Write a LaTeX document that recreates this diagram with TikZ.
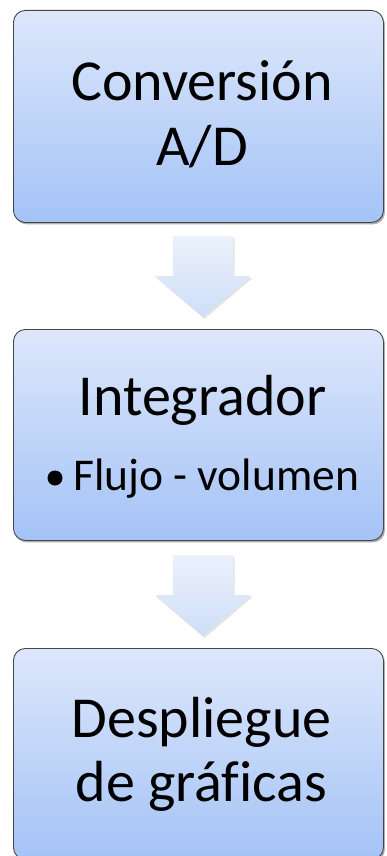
\documentclass[tikz,border=0pt]{standalone}
\usepackage{fontspec}
\setmainfont[Ligatures={TeX,NoCommon}]{Carlito}
\usetikzlibrary{shadows}
\definecolor{boxtop}{RGB}{221,231,251}
\definecolor{boxbot}{RGB}{164,195,246}
\definecolor{boxline}{RGB}{70,70,70}
\definecolor{arrtop}{RGB}{236,241,251}
\definecolor{arrbot}{RGB}{206,222,248}
\tikzset{
  stagebox/.style={draw=boxline, line width=0.9pt, rounded corners=12pt,
    top color=boxtop, bottom color=boxbot,
    drop shadow={shadow xshift=1.5pt, shadow yshift=-2pt, opacity=0.45, fill=black!70}},
  blockarrow/.style={top color=arrtop, bottom color=arrbot, draw=none,
    drop shadow={shadow xshift=1.5pt, shadow yshift=-2pt, opacity=0.18, fill=black!60}},
  bigtxt/.style={font=\fontsize{58}{70}\selectfont, align=center, inner sep=0pt},
  subtxt/.style={font=\fontsize{45.5}{55}\selectfont, inner sep=0pt, anchor=base west},
}
\begin{document}
\begin{tikzpicture}[x=1pt,y=-1pt]
\useasboundingbox (0,0) rectangle (386,856);
\begin{scope}
\clip (0,0) rectangle (386,856);
% boxes
\node[stagebox, minimum width=370pt, minimum height=212pt, anchor=north west] (b1) at (13,10) {};
\node[stagebox, minimum width=370pt, minimum height=211pt, anchor=north west] (b2) at (13,329) {};
\node[stagebox, minimum width=370pt, minimum height=211pt, anchor=north west] (b3) at (13,648) {};
% arrows
\coordinate (a1) at (203,236);
\path[blockarrow] (a1) ++(-30,0) -- ++(60,0) -- ++(0,40) -- ++(18,0) -- ++(-48,41) -- ++(-48,-41) -- ++(18,0) -- cycle;
\coordinate (a2) at (203,555);
\path[blockarrow] (a2) ++(-30,0) -- ++(60,0) -- ++(0,40) -- ++(18,0) -- ++(-48,41) -- ++(-48,-41) -- ++(18,0) -- cycle;
% texts
\node[bigtxt, anchor=base] (t1) at (202,101) {Conversión};
\node[bigtxt, anchor=base] (t1b) at (202,165) {A/D};
\node[bigtxt, anchor=base] (t2) at (202.5,415) {Integrador};
\node[subtxt] (t2b) at (73,490) {Flujo - volumen};
\fill (55,478) circle (7.5pt);
\node[bigtxt, anchor=base] (t3) at (201.5,737) {Despliegue};
\node[bigtxt, anchor=base] (t3b) at (201.5,801) {de gráficas};
\end{scope}
\end{tikzpicture}
\end{document}
